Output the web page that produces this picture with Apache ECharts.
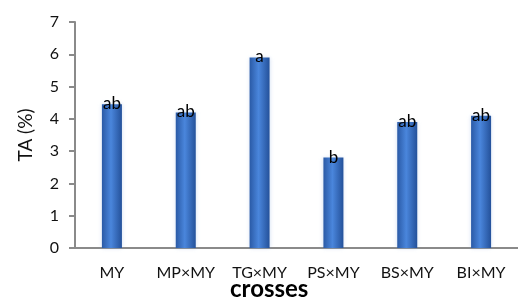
<!DOCTYPE html>
<html><head><meta charset="utf-8">
<script src="https://cdn.jsdelivr.net/npm/echarts@6/dist/echarts.min.js"></script>
<style>html,body{margin:0;padding:0;background:#fff}#c{width:518px;height:300px}</style>
</head><body><div id="c"></div>
<script>
var categories = ['MY', 'MP×MY', 'TG×MY', 'PS×MY', 'BS×MY', 'BI×MY'];
var taValues = [4.45, 4.2, 5.9, 2.8, 3.9, 4.1];
var letters = ['ab', 'ab', 'a', 'b', 'ab', 'ab'];
var yTicks = [0, 1, 2, 3, 4, 5, 6, 7];

var chart = echarts.init(document.getElementById('c'));
var font = 'Lato, "Open Sans", sans-serif';
chart.setOption({
  animation: false,
  grid: { left: 75, right: -12, top: 22, bottom: 52 },
  xAxis: {
    type: 'category',
    data: categories,
    axisLine: { lineStyle: { color: '#8a8a8a', width: 2 } },
    axisTick: { show: false },
    axisLabel: { color: '#111', fontSize: 16, fontFamily: font, margin: 17, interval: 0, hideOverlap: false }
  },
  yAxis: {
    type: 'value',
    min: yTicks[0], max: yTicks[yTicks.length - 1], interval: 1,
    name: 'TA (%)', nameLocation: 'middle', nameGap: 40,
    nameTextStyle: { color: '#111', fontSize: 19, fontFamily: font },
    splitLine: { show: false },
    axisLine: { show: true, lineStyle: { color: '#8a8a8a', width: 2 } },
    axisTick: { show: true, length: 6, lineStyle: { color: '#8a8a8a', width: 2 } },
    axisLabel: { color: '#111', fontSize: 16, fontFamily: font, margin: 16 }
  },
  series: [{
    type: 'bar',
    data: taValues,
    barWidth: 20,
    itemStyle: {
      color: new echarts.graphic.LinearGradient(0, 0, 1, 0, [
        { offset: 0, color: '#2a5aa6' },
        { offset: 0.45, color: '#4a86dc' },
        { offset: 1, color: '#24519a' }
      ]),
      shadowColor: 'rgba(120,160,220,0.35)', shadowBlur: 4
    },
    label: {
      show: true, position: 'top', distance: -8,
      color: '#000', fontSize: 17, fontFamily: font,
      formatter: function (p) { return letters[p.dataIndex]; }
    }
  }],
  graphic: [{
    type: 'text', left: 230, top: 277,
    style: { text: 'crosses', fill: '#000', font: 'bold 24px ' + font }
  }]
});
</script></body></html>
